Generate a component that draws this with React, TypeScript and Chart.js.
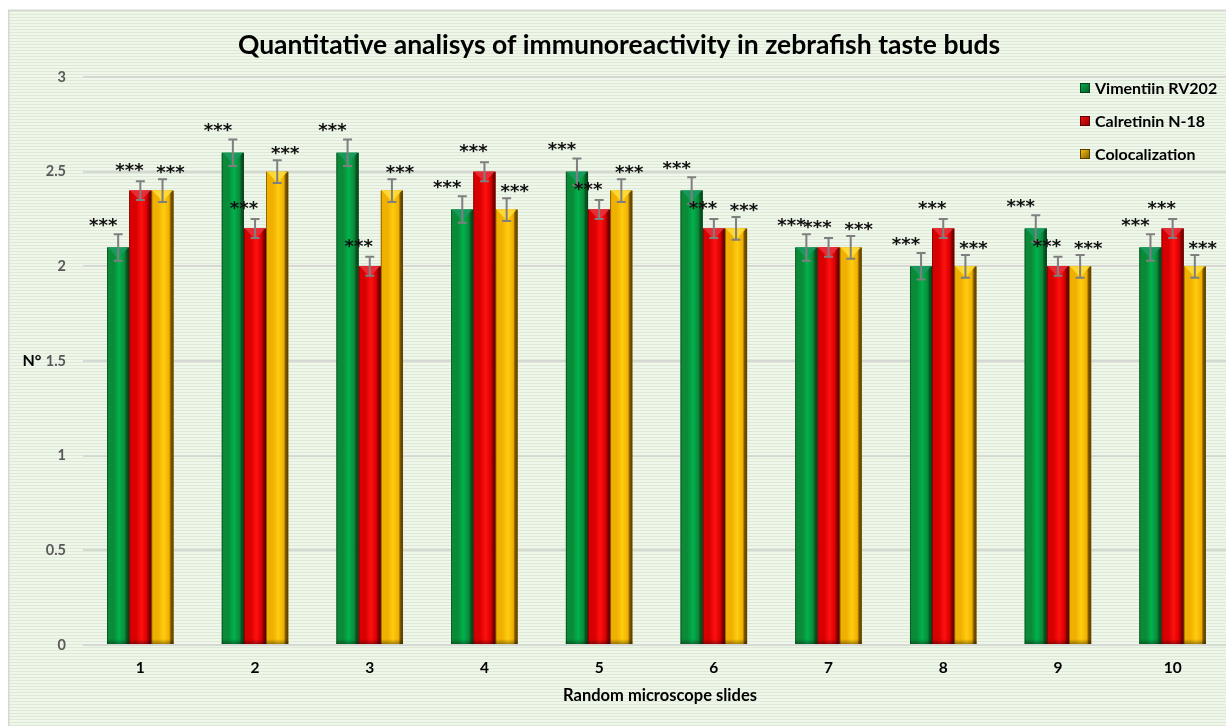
import { useEffect, useRef } from "react";
import { Chart, registerables } from "chart.js";

Chart.register(...registerables);

const categories = ["1", "2", "3", "4", "5", "6", "7", "8", "9", "10"];
const seriesNames = ["Vimentiin RV202", "Calretinin N-18", "Colocalization"];
const vimentin = [2.1, 2.6, 2.6, 2.3, 2.5, 2.4, 2.1, 2.0, 2.2, 2.1];
const calretinin = [2.4, 2.2, 2.0, 2.5, 2.3, 2.2, 2.1, 2.2, 2.0, 2.2];
const colocalization = [2.4, 2.5, 2.4, 2.3, 2.4, 2.2, 2.1, 2.0, 2.0, 2.0];
const vimentinErr = [0.07, 0.07, 0.07, 0.07, 0.07, 0.07, 0.07, 0.07, 0.07, 0.07];
const calretininErr = [0.05, 0.05, 0.05, 0.05, 0.05, 0.05, 0.05, 0.05, 0.05, 0.05];
const colocalizationErr = [0.06, 0.06, 0.06, 0.06, 0.06, 0.06, 0.06, 0.06, 0.06, 0.06];
const significance = ["***", "***", "***"];
const yMin = 0;
const yMax = 3;
const yStep = 0.5;

const TITLE = "Quantitative analisys of immunoreactivity in zebrafish taste buds";
const X_TITLE = "Random microscope slides";
const Y_TITLE = "N°";

const W = 1230;
const H = 726;
const FONT = "Lato, 'Open Sans', sans-serif";

const palette = [
  { dark: "#075a24", mid: "#0b8a38", light: "#00b24e", top: "#1a9a62", edge: "#04401a" },
  { dark: "#8a0000", mid: "#d80000", light: "#ff1010", top: "#e8303a", edge: "#5e0000" },
  { dark: "#7a5600", mid: "#f0b000", light: "#ffcc10", top: "#ffdc3a", edge: "#5a3e00" },
];
const labelOffsets = [
  { dx: -15, dy: -12 },
  { dx: -11, dy: -14 },
  { dx: 8, dy: -10 },
];

const errors = [vimentinErr, calretininErr, colocalizationErr];

function makePattern(ctx: CanvasRenderingContext2D) {
  const c = document.createElement("canvas");
  c.width = 4;
  c.height = 3;
  const p = c.getContext("2d")!;
  p.fillStyle = "#eff7eb";
  p.fillRect(0, 0, 4, 3);
  p.fillStyle = "#dde9d6";
  p.fillRect(0, 2, 4, 1);
  return ctx.createPattern(c, "repeat")!;
}

const decorPlugin = {
  id: "decor",
  beforeDraw(chart: any) {
    const ctx: CanvasRenderingContext2D = chart.ctx;
    ctx.save();
    ctx.fillStyle = "#ffffff";
    ctx.fillRect(0, 0, chart.width, chart.height);
    ctx.fillStyle = makePattern(ctx);
    ctx.fillRect(9, 10, chart.width - 9, chart.height - 10);
    ctx.strokeStyle = "#d4d8d0";
    ctx.lineWidth = 1.5;
    ctx.strokeRect(8.75, 10.25, chart.width, chart.height);
    ctx.restore();
  },
  afterDatasetsDraw(chart: any) {
    const ctx: CanvasRenderingContext2D = chart.ctx;
    const yScale = chart.scales.y;
    ctx.save();
    chart.data.datasets.forEach((ds: any, di: number) => {
      const meta = chart.getDatasetMeta(di);
      const col = palette[di];
      meta.data.forEach((el: any, i: number) => {
        const { x, y, base, width } = el.getProps(["x", "y", "base", "width"], true);
        const l = x - width / 2;
        const r = x + width / 2;
        const g = ctx.createLinearGradient(l, 0, r, 0);
        g.addColorStop(0, col.edge);
        g.addColorStop(0.06, col.mid);
        g.addColorStop(0.3, col.mid);
        g.addColorStop(0.55, col.light);
        g.addColorStop(0.8, col.mid);
        g.addColorStop(0.88, col.dark);
        g.addColorStop(1, col.edge);
        ctx.fillStyle = g;
        ctx.fillRect(l, y, width, base - y);
        ctx.beginPath();
        ctx.moveTo(l + 1, y);
        ctx.lineTo(r - 1, y);
        ctx.lineTo(x, y + 11);
        ctx.closePath();
        ctx.fillStyle = col.top;
        ctx.globalAlpha = 0.9;
        ctx.fill();
        ctx.globalAlpha = 1;
        const bg = ctx.createLinearGradient(0, base - 5, 0, base);
        bg.addColorStop(0, "rgba(0,0,0,0)");
        bg.addColorStop(1, "rgba(0,0,0,0.35)");
        ctx.fillStyle = bg;
        ctx.fillRect(l, base - 5, width, 5);

        const v = ds.data[i];
        const e = errors[di][i];
        const yt = yScale.getPixelForValue(v + e);
        const yb = yScale.getPixelForValue(v - e);
        ctx.strokeStyle = "#7f7f7f";
        ctx.lineWidth = 2;
        ctx.beginPath();
        ctx.moveTo(x, yt);
        ctx.lineTo(x, yb);
        ctx.moveTo(x - 4.5, yt);
        ctx.lineTo(x + 4.5, yt);
        ctx.moveTo(x - 4.5, yb);
        ctx.lineTo(x + 4.5, yb);
        ctx.stroke();

        const lx = x + labelOffsets[di].dx;
        const ly = yt + labelOffsets[di].dy;
        const size = 18;
        ctx.font = `bold ${size}px 'DejaVu Sans'`;
        ctx.fillStyle = "#111111";
        ctx.textAlign = "center";
        ctx.textBaseline = "alphabetic";
        const chars = significance[di].split("");
        chars.forEach((c, k) => {
          ctx.fillText(c, lx + (k - (chars.length - 1) / 2) * 9.5, ly + size * 0.5);
        });
      });
    });
    ctx.restore();
  },
  afterDraw(chart: any) {
    const ctx: CanvasRenderingContext2D = chart.ctx;
    ctx.save();
    ctx.fillStyle = "#000000";
    ctx.textAlign = "center";
    ctx.textBaseline = "middle";
    ctx.font = `bold 26.5px ${FONT}`;
    ctx.fillText(TITLE, 619, 45);
    ctx.font = `bold 16.5px ${FONT}`;
    ctx.fillText(X_TITLE, 660, 696);
    ctx.font = `bold 16px ${FONT}`;
    ctx.fillText(Y_TITLE, 32, 361);
    const legendY = [88, 121, 154];
    ctx.textAlign = "left";
    ctx.font = `bold 16px ${FONT}`;
    seriesNames.forEach((name, i) => {
      const col = palette[i];
      const sx = 1080;
      const sy = legendY[i] - 5;
      const g = ctx.createLinearGradient(sx, sy, sx + 10, sy + 10);
      g.addColorStop(0, col.light);
      g.addColorStop(1, col.dark);
      ctx.fillStyle = g;
      ctx.fillRect(sx, sy, 10, 10);
      ctx.strokeStyle = col.edge;
      ctx.lineWidth = 1;
      ctx.strokeRect(sx + 0.5, sy + 0.5, 9, 9);
      ctx.fillStyle = "#000000";
      ctx.fillText(name, 1095, legendY[i] + 1);
    });
    ctx.restore();
  },
};

export default function App() {
  const ref = useRef<HTMLCanvasElement>(null);
  useEffect(() => {
    if (!ref.current) return;
    const chart = new Chart(ref.current, {
      type: "bar",
      data: {
        labels: categories,
        datasets: [
          { label: seriesNames[0], data: vimentin, backgroundColor: palette[0].mid },
          { label: seriesNames[1], data: calretinin, backgroundColor: palette[1].mid },
          { label: seriesNames[2], data: colocalization, backgroundColor: palette[2].mid },
        ],
      },
      options: {
        responsive: false,
        animation: false,
        events: [],
        layout: { padding: { top: 77, left: 0, right: 0, bottom: 0 } },
        datasets: { bar: { barPercentage: 1, categoryPercentage: 0.58 } },
        plugins: {
          legend: { display: false },
          title: { display: false },
          tooltip: { enabled: false },
        },
        scales: {
          x: {
            grid: { display: false },
            border: { display: false },
            ticks: {
              color: "#000000",
              font: { family: FONT, size: 15.5, weight: "bold" },
              padding: 6,
            },
            afterFit: (s: any) => {
              s.height = 81;
            },
          },
          y: {
            min: yMin,
            max: yMax,
            grid: { color: "#d6d9d3", lineWidth: 2, drawTicks: false },
            border: { display: false },
            ticks: {
              stepSize: yStep,
              color: "#595959",
              font: { family: FONT, size: 14.5, weight: "bold" },
              padding: 17,
              callback: (v: any) => String(Number(v)),
            },
            afterFit: (s: any) => {
              s.width = 83;
            },
          },
        },
      },
      plugins: [decorPlugin],
    } as any);
    return () => chart.destroy();
  }, []);
  return (
    <div style={{ position: "fixed", left: 0, top: 0, width: 1226, height: 726, overflow: "hidden", background: "#fff" }}>
      <canvas ref={ref} width={W} height={H} style={{ width: W, height: H, display: "block" }} />
    </div>
  );
}
